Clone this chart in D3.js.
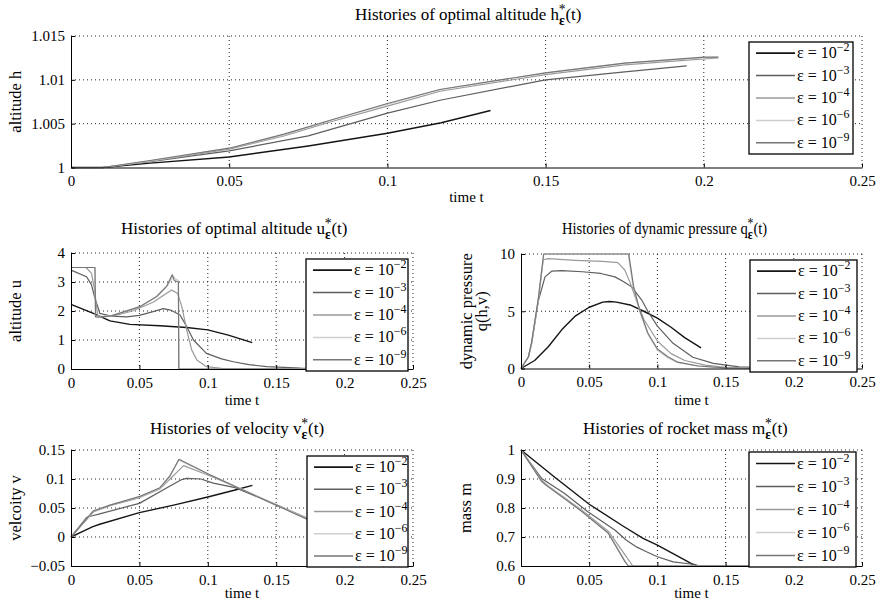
<!DOCTYPE html>
<html>
<head>
<meta charset="utf-8">
<script src="https://cdn.jsdelivr.net/npm/d3@7"></script>
<style>
  body { margin: 0; background: #fff; }
  svg { display: block; }
  text { font-family: "Liberation Serif", "Times New Roman", serif; fill: #000; }
</style>
</head>
<body>
<div id="chart"></div>
<script>
// legend order: epsilon = 10^-2, 10^-3, 10^-4, 10^-6, 10^-9
const epsExp = ["−2", "−3", "−4", "−6", "−9"];
const seriesColors = ["#141414", "#5e5e5e", "#9a9a9a", "#cecece", "#767676"];
const seriesWidths = [1.4, 1.2, 1.2, 1.2, 1.2];

const xTicks = [0, 0.05, 0.1, 0.15, 0.2, 0.25];
const xTickLabels = ["0", "0.05", "0.1", "0.15", "0.2", "0.25"];

// altitude h(t)
const hTicks = [1, 1.005, 1.01, 1.015];
const hTickLabels = ["1", "1.005", "1.01", "1.015"];
const hEps2 = [[0,1],[0.01,1],[0.025,1.0005],[0.05,1.0012],[0.075,1.00245],[0.1,1.0039],[0.117,1.0051],[0.1326,1.0065]];
const hEps3 = [[0,1],[0.01,1],[0.025,1.00066],[0.05,1.0019],[0.075,1.0036],[0.1,1.0062],[0.117,1.0077],[0.15,1.0100],[0.175,1.0109],[0.1946,1.0116]];
const hEps4 = [[0,1],[0.01,1],[0.025,1.0007],[0.05,1.0021],[0.0673,1.0036],[0.083,1.0053],[0.1,1.0070],[0.1166,1.0087],[0.15,1.0106],[0.175,1.0117],[0.2,1.0124],[0.2046,1.0125]];
const hEps6 = [[0,1],[0.01,1],[0.025,1.00075],[0.05,1.0022],[0.0673,1.0037],[0.083,1.0055],[0.1,1.0072],[0.1166,1.0089],[0.15,1.0108],[0.175,1.0119],[0.2,1.0125],[0.2046,1.0126]];
const hEps9 = [[0,1],[0.01,1],[0.025,1.0008],[0.05,1.0022],[0.0673,1.0038],[0.083,1.0055],[0.1,1.0073],[0.1166,1.0089],[0.15,1.0108],[0.175,1.0119],[0.2,1.0126],[0.2046,1.0126]];

// control u(t)
const uTicks = [0, 1, 2, 3, 4];
const uTickLabels = ["0", "1", "2", "3", "4"];
const uEps2 = [[0,2.23],[0.0163,1.92],[0.0285,1.66],[0.043,1.54],[0.065,1.49],[0.0845,1.43],[0.1,1.35],[0.115,1.17],[0.1325,0.91]];
const uEps3 = [[0,3.41],[0.0114,3.18],[0.015,2.9],[0.0175,2.44],[0.02,2.09],[0.021,1.92],[0.03,1.82],[0.0407,1.8],[0.05,1.85],[0.06,1.98],[0.0675,2.08],[0.0735,2.02],[0.0797,1.86],[0.0846,1.46],[0.0895,1.0],[0.099,0.54],[0.11,0.35],[0.1187,0.25],[0.13,0.15],[0.143,0.08],[0.168,0.03],[0.205,0.01]];
const uEps4 = [[0,3.5],[0.011,3.5],[0.015,3.3],[0.017,2.8],[0.0195,1.85],[0.022,1.8],[0.03,1.82],[0.045,2.0],[0.06,2.3],[0.068,2.55],[0.0736,2.72],[0.078,2.6],[0.081,2.15],[0.0846,1.34],[0.0882,0.66],[0.092,0.31],[0.099,0.08],[0.11,0.02],[0.205,0]];
const uEps6 = [[0,3.5],[0.0175,3.5],[0.0178,1.8],[0.02,1.8],[0.03,1.85],[0.05,2.15],[0.0626,2.49],[0.07,2.84],[0.0748,3.2],[0.0765,3.1],[0.0785,3.05],[0.079,0],[0.205,0]];
const uEps9 = [[0,3.5],[0.0175,3.5],[0.018,1.8],[0.02,1.79],[0.03,1.84],[0.05,2.14],[0.0626,2.5],[0.07,2.86],[0.074,3.25],[0.0755,3.05],[0.0785,3.0],[0.0788,0],[0.205,0]];

// dynamic pressure q(t)
const qTicks = [0, 5, 10];
const qTickLabels = ["0", "5", "10"];
const qEps2 = [[0,0],[0.01,0.7],[0.02,1.9],[0.03,3.4],[0.04,4.6],[0.05,5.35],[0.06,5.8],[0.065,5.85],[0.07,5.8],[0.08,5.55],[0.09,5.0],[0.1,4.4],[0.11,3.6],[0.12,2.7],[0.132,1.8]];
const qEps3 = [[0,0],[0.0054,1.0],[0.0078,2.2],[0.0127,5.9],[0.0176,8.0],[0.0225,8.5],[0.03,8.55],[0.045,8.45],[0.0585,8.3],[0.0688,8.0],[0.075,7.6],[0.081,7.15],[0.0884,6.0],[0.093,5.0],[0.1,3.7],[0.1115,2.2],[0.126,0.98],[0.141,0.45],[0.16,0.15],[0.205,0.05]];
const qEps4 = [[0,0],[0.0054,1.0],[0.0078,2.2],[0.0127,6.0],[0.0163,9.5],[0.02,9.6],[0.04,9.45],[0.06,9.35],[0.071,9.25],[0.0761,8.6],[0.08,7.5],[0.085,5.8],[0.09,4.3],[0.1,2.4],[0.11,1.3],[0.12,0.7],[0.135,0.3],[0.15,0.1],[0.205,0.02]];
const qEps6 = [[0,0],[0.0054,1.0],[0.0078,2.2],[0.0127,6.0],[0.0168,10],[0.0785,10],[0.082,7.3],[0.087,5.0],[0.093,3.0],[0.1,1.6],[0.108,0.9],[0.115,0.5],[0.13,0.2],[0.15,0.05],[0.205,0]];
const qEps9 = [[0,0],[0.0054,1.0],[0.0078,2.3],[0.0127,6.1],[0.0166,10],[0.079,10],[0.0825,7.2],[0.087,5.1],[0.093,3.1],[0.1,1.7],[0.108,1.0],[0.115,0.55],[0.13,0.22],[0.15,0.06],[0.205,0]];

// velocity v(t)
const vTicks = [-0.05, 0, 0.05, 0.1, 0.15];
const vTickLabels = ["−0.05", "0", "0.05", "0.1", "0.15"];
const vEps2 = [[0,0],[0.009,0.010],[0.016,0.018],[0.021,0.022],[0.05,0.042],[0.075,0.055],[0.1,0.069],[0.12,0.081],[0.1326,0.089]];
const vEps3 = [[0,0],[0.0115,0.034],[0.0163,0.037],[0.021,0.040],[0.05,0.058],[0.0724,0.088],[0.081,0.099],[0.0845,0.101],[0.095,0.100],[0.104,0.093],[0.12,0.085],[0.15,0.056],[0.172,0.033],[0.205,0.005]];
const vEps4 = [[0,0],[0.0163,0.043],[0.0285,0.054],[0.0504,0.068],[0.065,0.083],[0.0724,0.1],[0.0823,0.123],[0.1,0.107],[0.12,0.087],[0.15,0.055],[0.172,0.032],[0.205,0.005]];
const vEps6 = [[0,0],[0.0163,0.044],[0.0285,0.055],[0.0504,0.069],[0.065,0.084],[0.0724,0.104],[0.0785,0.133],[0.1,0.109],[0.12,0.088],[0.15,0.056],[0.172,0.032],[0.205,0.005]];
const vEps9 = [[0,0],[0.0163,0.045],[0.0285,0.055],[0.0504,0.070],[0.065,0.085],[0.0724,0.106],[0.079,0.134],[0.1,0.109],[0.12,0.087],[0.15,0.055],[0.172,0.031],[0.205,0.004]];

// rocket mass m(t)
const mTicks = [0.6, 0.7, 0.8, 0.9, 1];
const mTickLabels = ["0.6", "0.7", "0.8", "0.9", "1"];
const mEps2 = [[0,1],[0.025,0.905],[0.05,0.813],[0.075,0.737],[0.0895,0.695],[0.1,0.672],[0.126,0.606],[0.13,0.6],[0.205,0.6]];
const mEps3 = [[0,1],[0.0151,0.902],[0.032,0.85],[0.049,0.787],[0.0688,0.724],[0.0773,0.689],[0.085,0.665],[0.092,0.649],[0.1,0.632],[0.1115,0.614],[0.126,0.606],[0.13,0.6],[0.205,0.6]];
const mEps4 = [[0,1],[0.0151,0.896],[0.02,0.876],[0.0444,0.793],[0.064,0.72],[0.076,0.64],[0.082,0.6],[0.205,0.6]];
const mEps6 = [[0,1],[0.0151,0.893],[0.018,0.882],[0.0444,0.79],[0.064,0.715],[0.0761,0.619],[0.0785,0.6],[0.205,0.6]];
const mEps9 = [[0,1],[0.0151,0.892],[0.018,0.88],[0.0444,0.789],[0.064,0.713],[0.0761,0.616],[0.0788,0.6],[0.205,0.6]];

const panels = [
  { left: 71, right: 862, top: 36, bottom: 167.5, yDomain: [1, 1.015],
    yTicks: hTicks, yTickLabels: hTickLabels, series: [hEps2, hEps3, hEps4, hEps6, hEps9],
    title: "Histories of optimal altitude ", sym: "h", titleX: 355, titleY: 20, titleScale: 1,
    ylab: [["altitude h", 21]], xlabY: 202, legend: [749, 853, 42, 154] },
  { left: 71, right: 413, top: 253, bottom: 369, yDomain: [0, 4],
    yTicks: uTicks, yTickLabels: uTickLabels, series: [uEps2, uEps3, uEps4, uEps6, uEps9],
    title: "Histories of optimal altitude ", sym: "u", titleX: 121, titleY: 234, titleScale: 1,
    ylab: [["altitude u", 21]], xlabY: 405, legend: [306, 408, 259, 371] },
  { left: 521, right: 862, top: 254, bottom: 368.5, yDomain: [0, 10],
    yTicks: qTicks, yTickLabels: qTickLabels, series: [qEps2, qEps3, qEps4, qEps6, qEps9],
    title: "Histories of dynamic pressure ", sym: "q", titleX: 562, titleY: 234, titleScale: 0.86,
    ylab: [["dynamic pressure", 472], ["q(h,v)", 487]], xlabY: 405, legend: [750, 857, 260, 372] },
  { left: 71, right: 413, top: 450, bottom: 566, yDomain: [-0.05, 0.15],
    yTicks: vTicks, yTickLabels: vTickLabels, series: [vEps2, vEps3, vEps4, vEps6, vEps9],
    title: "Histories of velocity ", sym: "v", titleX: 150, titleY: 434, titleScale: 1,
    ylab: [["velcoity v", 21]], xlabY: 598, legend: [307, 408, 456, 567] },
  { left: 521, right: 862, top: 450, bottom: 566, yDomain: [0.6, 1],
    yTicks: mTicks, yTickLabels: mTickLabels, series: [mEps2, mEps3, mEps4, mEps6, mEps9],
    title: "Histories of rocket mass ", sym: "m", titleX: 583, titleY: 434, titleScale: 1,
    ylab: [["mass m", 471]], xlabY: 598, legend: [749, 856, 452, 567] }
];

const svg = d3.select("#chart").append("svg")
  .attr("width", 881)
  .attr("height", 604);

function drawPanel(p) {
  const x = d3.scaleLinear().domain([0, 0.25]).range([p.left, p.right]);
  const y = d3.scaleLinear().domain(p.yDomain).range([p.bottom, p.top]);
  const g = svg.append("g");

  // dotted grid
  g.append("g").selectAll("line").data(xTicks.slice(1)).join("line")
    .attr("x1", d => x(d)).attr("x2", d => x(d))
    .attr("y1", p.top).attr("y2", p.bottom)
    .attr("stroke", "#222").attr("stroke-width", 1).attr("stroke-dasharray", "1,3");
  g.append("g").selectAll("line").data(p.yTicks.slice(1)).join("line")
    .attr("x1", p.left).attr("x2", p.right)
    .attr("y1", d => y(d)).attr("y2", d => y(d))
    .attr("stroke", "#222").attr("stroke-width", 1).attr("stroke-dasharray", "1,3");

  // curves
  const line = d3.line().x(d => x(d[0])).y(d => y(d[1]));
  p.series.forEach((s, i) => {
    g.append("path").datum(s)
      .attr("fill", "none")
      .attr("stroke", seriesColors[i])
      .attr("stroke-width", seriesWidths[i])
      .attr("stroke-linejoin", "round")
      .attr("d", line);
  });

  // axes
  const xa = g.append("g").attr("transform", "translate(0," + p.bottom + ")")
    .call(d3.axisBottom(x).tickValues(xTicks).tickFormat((d, i) => xTickLabels[i])
      .tickSizeInner(-4).tickSizeOuter(0).tickPadding(8));
  const ya = g.append("g").attr("transform", "translate(" + p.left + ",0)")
    .call(d3.axisLeft(y).tickValues(p.yTicks).tickFormat((d, i) => p.yTickLabels[i])
      .tickSizeInner(-4).tickSizeOuter(0).tickPadding(6));
  [xa, ya].forEach(a => {
    a.attr("font-family", null).attr("font-size", null);
    a.selectAll("path, line").attr("stroke", "#000");
    a.selectAll("text").style("font-size", "15px");
  });

  // title with h*_eps style symbol
  const ts = 17;
  const t = svg.append("text")
    .attr("transform", "translate(" + p.titleX + "," + p.titleY + ") scale(" + p.titleScale + ",1)")
    .style("font-size", ts + "px");
  t.append("tspan").text(p.title + p.sym);
  t.append("tspan").attr("dy", ts * 0.32).style("font-size", (ts * 0.8) + "px").style("font-weight", "bold").text("ε");
  t.append("tspan").attr("dx", -ts * 0.36).attr("dy", -ts * 0.7).style("font-size", (ts * 0.8) + "px").text("*");
  t.append("tspan").attr("dy", ts * 0.38).text("(t)");

  // axis labels
  svg.append("text").attr("x", (p.left + p.right) / 2).attr("y", p.xlabY)
    .attr("text-anchor", "middle").style("font-size", "15px").text("time t");
  p.ylab.forEach(([label, lx]) => {
    svg.append("text")
      .attr("transform", "translate(" + lx + "," + ((p.top + p.bottom) / 2) + ") rotate(-90)")
      .attr("text-anchor", "middle").style("font-size", "16.5px").text(label);
  });

  // legend
  const [lx0, lx1, ly0, ly1] = p.legend;
  svg.append("rect").attr("x", lx0).attr("y", ly0)
    .attr("width", lx1 - lx0).attr("height", ly1 - ly0)
    .attr("fill", "#fff").attr("stroke", "#000").attr("stroke-width", 1.3);
  epsExp.forEach((e, i) => {
    const ry = ly0 + (ly1 - ly0) * (i + 0.5) / epsExp.length;
    svg.append("line").attr("x1", lx0 + 7).attr("x2", lx0 + 46)
      .attr("y1", ry).attr("y2", ry)
      .attr("stroke", seriesColors[i]).attr("stroke-width", seriesWidths[i] + 0.3);
    const lt = svg.append("text").attr("x", lx0 + 48).attr("y", ry + 5).style("font-size", "16px");
    lt.append("tspan").text("ε = 10");
    lt.append("tspan").attr("dy", -7).style("font-size", "12px").text(e);
  });
}

panels.forEach(drawPanel);
</script>
</body>
</html>
